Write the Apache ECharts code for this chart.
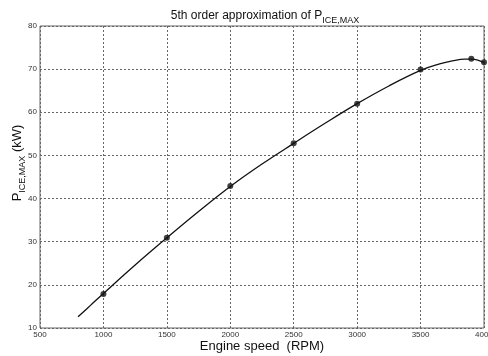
<!DOCTYPE html>
<html><head><meta charset="utf-8">
<script src="https://cdn.jsdelivr.net/npm/echarts@6/dist/echarts.min.js"></script>
<style>html,body{margin:0;padding:0;background:#fff}#c{width:488px;height:356px}</style>
</head><body><div id="c"></div>
<script>
// fitted curve samples
const curveRpm   = [800, 900, 1000, 1250, 1500, 1750, 2000, 2250, 2500, 2750, 3000, 3250, 3500, 3650, 3750, 3850, 3900, 3950, 4000];
const curvePower = [12.6, 15.3, 18.0, 24.6, 30.9, 37.0, 42.8, 48.0, 52.8, 57.5, 62.0, 66.1, 69.7, 71.2, 71.9, 72.3, 72.3, 72.1, 71.5];
// measured points
const pointRpm   = [1000, 1500, 2000, 2500, 3000, 3500, 3900, 4000];
const pointPower = [17.9, 30.9, 42.9, 52.8, 62.0, 69.9, 72.4, 71.6];
const xTicks = [500, 1000, 1500, 2000, 2500, 3000, 3500, 4000];
const yTicks = [10, 20, 30, 40, 50, 60, 70, 80];

const font = 'Liberation Sans, Arial, sans-serif';
const chart = echarts.init(document.getElementById('c'), null, {renderer: 'canvas'});
chart.setOption({
  backgroundColor: '#fff',
  animation: false,
  title: {
    text: '5th order approximation of P{sub|ICE,MAX}',
    left: 260, top: 1, textAlign: 'center',
    textStyle: {
      fontFamily: font, fontSize: 12, fontWeight: 'normal', color: '#111',
      rich: { sub: { fontFamily: font, fontSize: 9, color: '#111', padding: [10, 0, 0, 0] } }
    }
  },
  grid: { left: 40, right: 4, top: 26, bottom: 28, show: true, borderColor: '#666', borderWidth: 1,
    backgroundColor: 'transparent', outerBoundsMode: 'none', containLabel: false },
  xAxis: {
    type: 'value', min: 500, max: 4000, interval: 500,
    name: 'Engine speed  (RPM)', nameLocation: 'middle', nameGap: 12, nameMoveOverlap: false,
    nameTextStyle: { fontFamily: font, fontSize: 13, color: '#111' },
    axisLine: { show: false }, axisTick: { show: false },
    axisLabel: { fontFamily: font, fontSize: 8, color: '#333', margin: 3,
      formatter: v => xTicks.includes(v) ? String(v) : '' },
    splitLine: { show: true, lineStyle: { color: '#666', type: [2, 2], width: 1 } }
  },
  yAxis: {
    type: 'value', min: 10, max: 80, interval: 10,
    name: 'P{sub|ICE,MAX} (kW)', nameLocation: 'middle', nameGap: 13, nameRotate: 90, nameMoveOverlap: false,
    nameTextStyle: { fontFamily: font, fontSize: 13, color: '#111', padding: [0, 0, 0, 28],
      rich: { sub: { fontFamily: font, fontSize: 9, color: '#111', padding: [10, 0, 0, 0] } } },
    axisLine: { show: false }, axisTick: { show: false },
    axisLabel: { fontFamily: font, fontSize: 8, color: '#333', margin: 3,
      formatter: v => yTicks.includes(v) ? String(v) : '' },
    splitLine: { show: true, lineStyle: { color: '#666', type: [2, 2], width: 1 } }
  },
  series: [
    { type: 'line', data: curveRpm.map((x, i) => [x, curvePower[i]]), smooth: 0.4, showSymbol: false,
      lineStyle: { color: '#111', width: 1.3 }, z: 2 },
    { type: 'scatter', data: pointRpm.map((x, i) => [x, pointPower[i]]), symbolSize: 6,
      itemStyle: { color: '#111' }, z: 3 }
  ]
});
</script></body></html>
